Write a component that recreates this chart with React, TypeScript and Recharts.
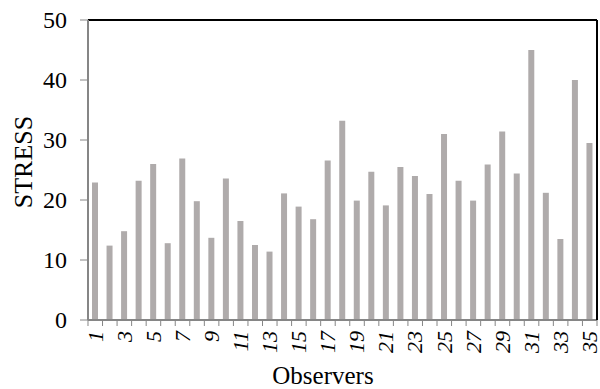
import React from 'react';
import { BarChart, Bar, XAxis, YAxis, ReferenceLine, Label } from 'recharts';

const observers = [
  '1', '2', '3', '4', '5', '6', '7', '8', '9', '10', '11', '12', '13', '14', '15', '16', '17', '18',
  '19', '20', '21', '22', '23', '24', '25', '26', '27', '28', '29', '30', '31', '32', '33', '34', '35',
];
const stress = [
  22.9, 12.4, 14.8, 23.2, 26.0, 12.8, 26.9, 19.8, 13.7, 23.6, 16.5, 12.5, 11.4, 21.1, 18.9, 16.8, 26.6, 33.2,
  19.9, 24.7, 19.1, 25.5, 24.0, 21.0, 31.0, 23.2, 19.9, 25.9, 31.4, 24.4, 45.0, 21.2, 13.5, 40.0, 29.5,
];
const yTicks = [0, 10, 20, 30, 40, 50];

const data = observers.map((o, i) => ({ observer: o, stress: stress[i] }));

const FONT = '"Liberation Serif", "Times New Roman", serif';
const AXIS = '#868686';
const BAND = 510 / observers.length;

const ObserverTick = (props: any) => {
  const { x, y, index } = props;
  const last = index === observers.length - 1;
  return (
    <g>
      <line x1={x - BAND / 2} y1={y} x2={x - BAND / 2} y2={y + 6} stroke={AXIS} strokeWidth={1} />
      {last && <line x1={x + BAND / 2} y1={y} x2={x + BAND / 2} y2={y + 6} stroke={AXIS} strokeWidth={1} />}
      {index % 2 === 0 && (
        <text
          x={x}
          y={y + 11}
          dy="0.33em"
          transform={`rotate(-90, ${x}, ${y + 11})`}
          textAnchor="end"
          fontSize={22}
          fontStyle="italic"
          fontFamily={FONT}
          fill="#000"
        >
          {props.payload.value}
        </text>
      )}
    </g>
  );
};

const StressTick = (props: any) => {
  const { x, y, payload } = props;
  return (
    <text x={x} y={y} dy="0.35em" textAnchor="end" fontSize={24} fontFamily={FONT} fill="#000">
      {payload.value}
    </text>
  );
};

export default function App() {
  return (
    <div style={{ position: 'absolute', left: 0, top: 0, background: '#fff' }}>
      <BarChart
        width={600}
        height={389}
        data={data}
        margin={{ top: 20, right: 2, left: 0, bottom: 0 }}
        style={{ fontFamily: FONT }}
      >
        <XAxis
          dataKey="observer"
          interval={0}
          height={69}
          tickSize={0}
          tickMargin={0}
          tickLine={false}
          axisLine={{ stroke: AXIS, strokeWidth: 2 }}
          tick={<ObserverTick />}
        >
          <Label
            content={() => (
              <text x={323} y={384} textAnchor="middle" fontSize={25} fontFamily={FONT} fill="#000">
                Observers
              </text>
            )}
          />
        </XAxis>
        <YAxis
          width={88}
          domain={[0, 50]}
          ticks={yTicks}
          tickSize={8}
          tickMargin={13}
          tickLine={{ stroke: AXIS, strokeWidth: 1 }}
          axisLine={{ stroke: AXIS, strokeWidth: 2 }}
          tick={<StressTick />}
        >
          <Label
            content={() => (
              <text x={32} y={162} transform="rotate(-90, 32, 162)" textAnchor="middle" fontSize={26} fontFamily={FONT} fill="#000">
                STRESS
              </text>
            )}
          />
        </YAxis>
        <YAxis
          yAxisId="right"
          orientation="right"
          width={1}
          domain={[0, 50]}
          tick={false}
          tickLine={false}
          axisLine={{ stroke: '#000', strokeWidth: 2 }}
        />
        <ReferenceLine y={50} stroke="#000" strokeWidth={2} ifOverflow="visible" />
        <Bar dataKey="stress" fill="#afabab" barSize={6} isAnimationActive={false} />
      </BarChart>
    </div>
  );
}
